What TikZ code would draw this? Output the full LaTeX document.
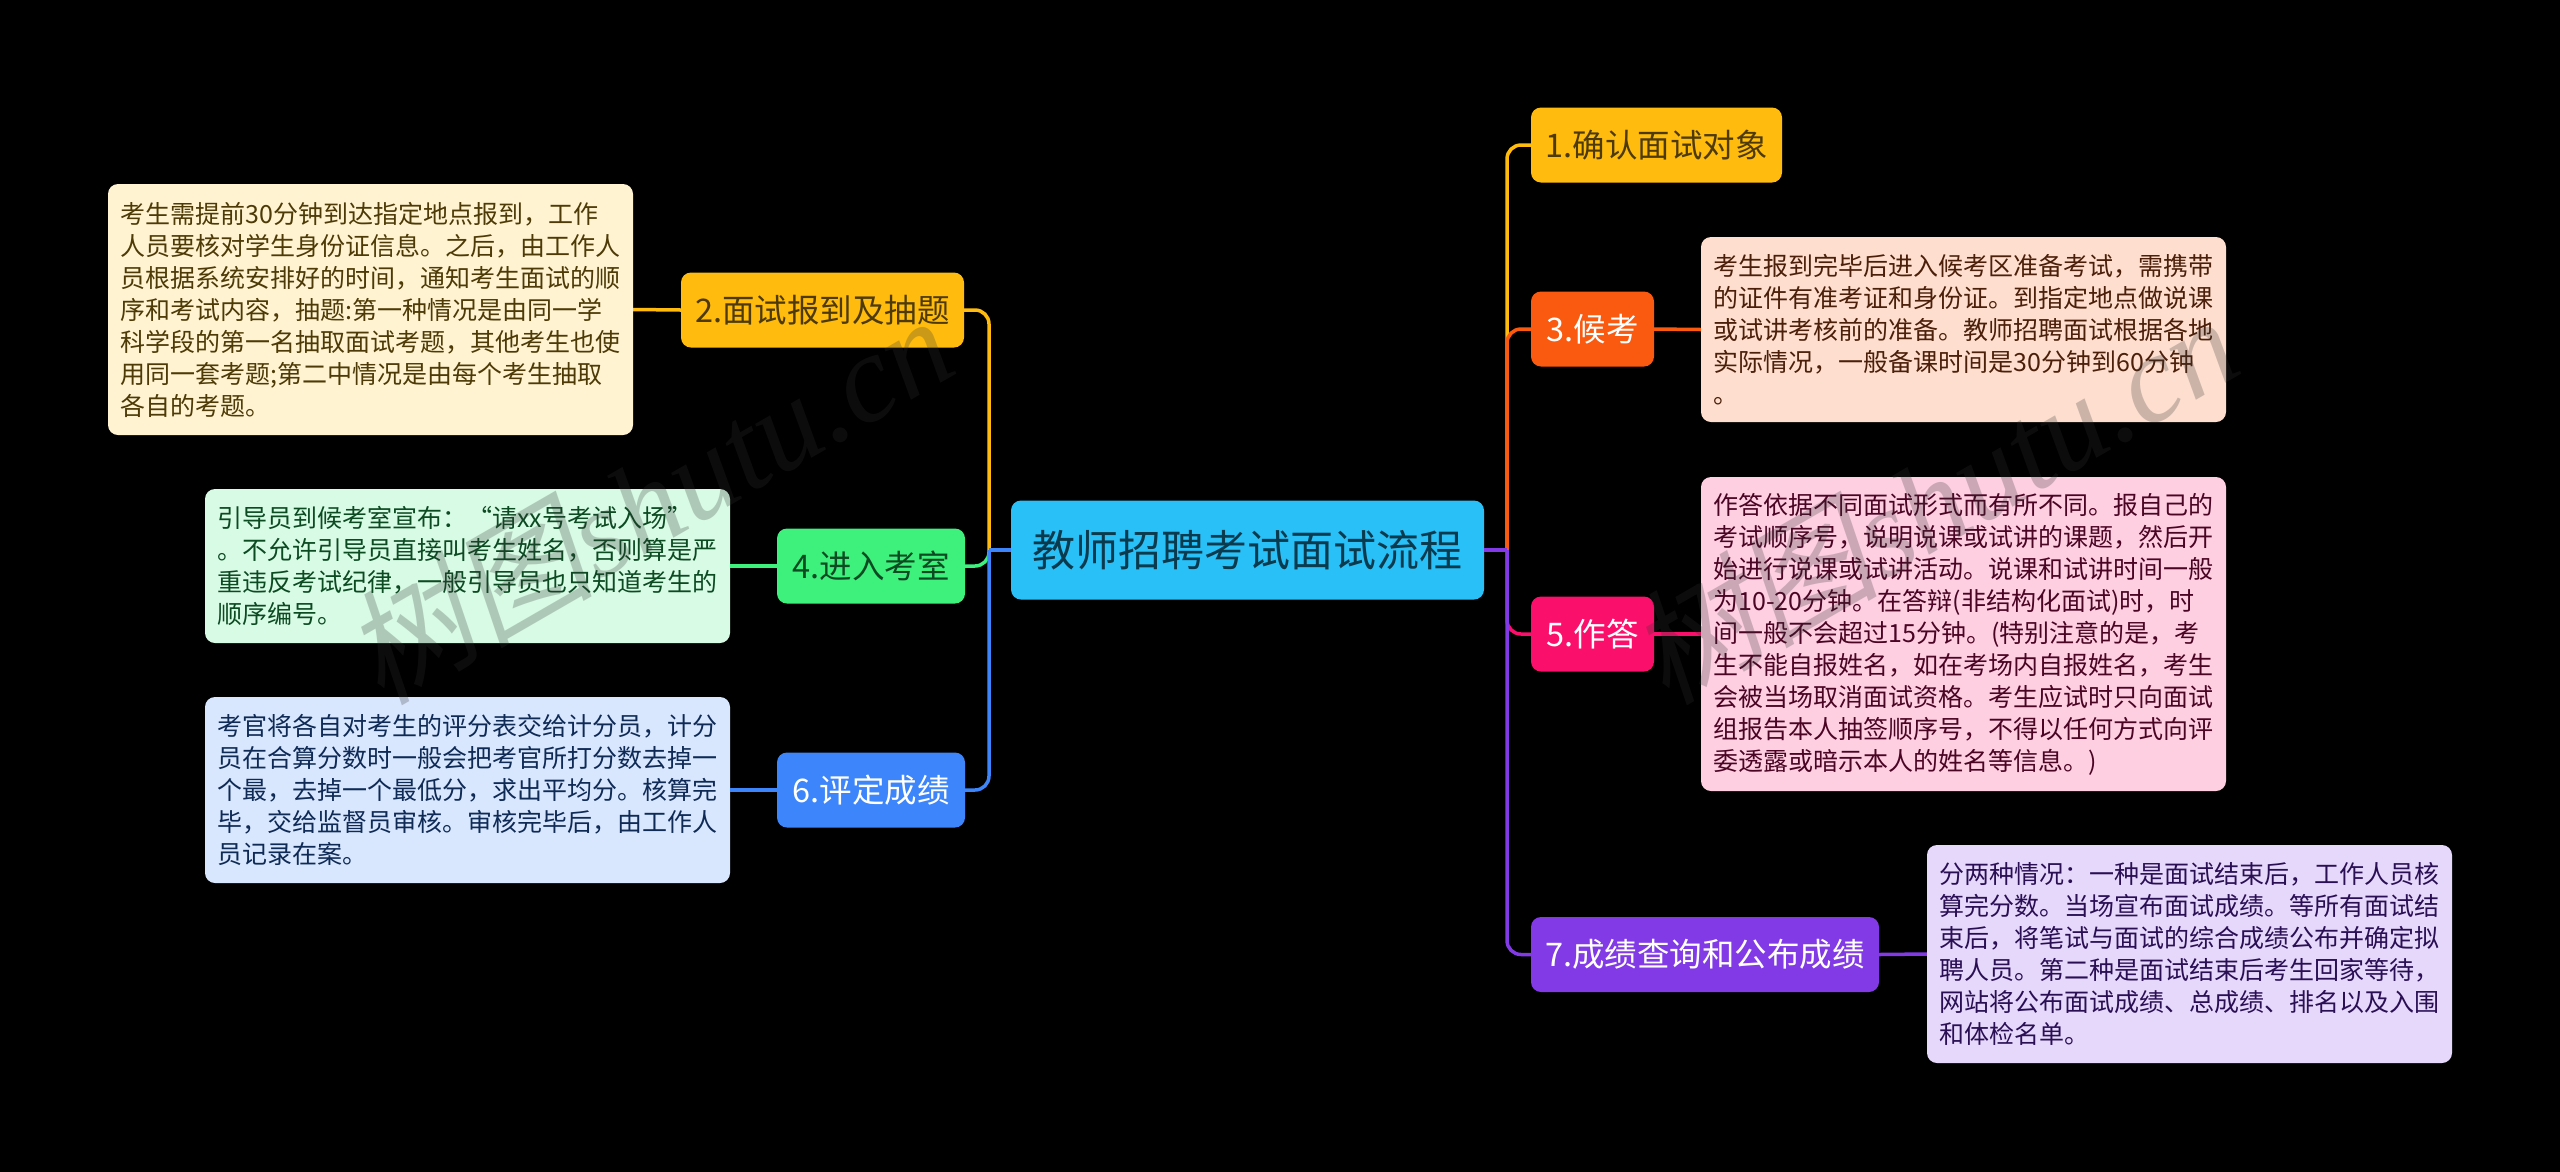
\documentclass[tikz,border=0pt]{standalone}
\usepackage{fontspec}
\setmainfont{Noto Sans CJK SC}
\newfontfamily\markfont[FakeSlant=0.2]{Noto Sans CJK SC}
\newfontfamily\marklatin{Liberation Serif}
\usepackage{tikz}

\definecolor{rootfill}{HTML}{29C0F7}
\definecolor{amberfill}{HTML}{FFBC0F}
\definecolor{orangefill}{HTML}{FA5A0F}
\definecolor{greenfill}{HTML}{3EF07C}
\definecolor{pinkfill}{HTML}{FA0F6B}
\definecolor{bluefill}{HTML}{3C85FA}
\definecolor{purplefill}{HTML}{823AE6}
\definecolor{ambernote}{HTML}{FFF3D1}
\definecolor{orangenote}{HTML}{FEDFCF}
\definecolor{greennote}{HTML}{D8FBE5}
\definecolor{pinknote}{HTML}{FECFE1}
\definecolor{bluenote}{HTML}{D8E7FE}
\definecolor{purplenote}{HTML}{E6D8FA}
\definecolor{roottext}{HTML}{0A3A4D}
\definecolor{ambertext}{HTML}{4D3A06}
\definecolor{orangetext}{HTML}{4B1F0A}
\definecolor{greentext}{HTML}{0C4A22}
\definecolor{pinktext}{HTML}{4B0524}
\definecolor{bluetext}{HTML}{0E2A55}
\definecolor{purpletext}{HTML}{2A0F55}

\tikzset{
  topicbox/.style={rectangle, rounded corners=10pt, inner sep=0pt, minimum height=75pt, font=\fontsize{32.5}{38}\selectfont},
  notebox/.style={rectangle, rounded corners=10pt, inner xsep=12.5pt, inner ysep=0pt, text width=500pt, align=left, font=\fontsize{25}{32}\selectfont},
  linkline/.style={line width=3.5pt},
  bendline/.style={line width=3.5pt, rounded corners=14pt},
  markline/.style={rotate=30, text=black!80, text opacity=0.25, font=\fontsize{125}{125}\selectfont}
}

\begin{document}
\begin{tikzpicture}[x=1pt, y=-1pt]
% Background
\useasboundingbox (0,0) rectangle (2560,1171);
\fill[black] (-5,-5) rectangle (2565,1176);

% Root
\node[rectangle, rounded corners=10pt, fill=rootfill, minimum width=473pt, minimum height=99pt, inner sep=0pt, text=roottext, font=\fontsize{43}{50}\selectfont] (root) at (1247.5,550) {教师招聘考试面试流程};
\coordinate (laneL) at (989,550);
\coordinate (laneR) at (1507,550);

% Left topics
\node[topicbox, fill=amberfill, minimum width=283pt, text=ambertext] (reg) at (822.5,310) {2.面试报到及抽题};
\node[topicbox, fill=greenfill, minimum width=188pt, text=greentext] (room) at (871,566) {4.进入考室};
\node[topicbox, fill=bluefill, minimum width=188pt, text=white] (score) at (871,790) {6.评定成绩};

% Right topics
\node[topicbox, fill=amberfill, minimum width=251pt, text=ambertext] (target) at (1656.5,145) {1.确认面试对象};
\node[topicbox, fill=orangefill, minimum width=123pt, text=white] (wait) at (1592.5,329) {3.候考};
\node[topicbox, fill=pinkfill, minimum width=123pt, text=white] (answer) at (1592.5,634) {5.作答};
\node[topicbox, fill=purplefill, minimum width=348pt, text=white] (query) at (1705,954.5) {7.成绩查询和公布成绩};

% Left notes
\node[notebox, fill=ambernote, minimum height=251pt, text=ambertext] (regnote) at (370.5,309.5) {考生需提前30分钟到达指定地点报到，工作\\人员要核对学生身份证信息。之后，由工作人\\员根据系统安排好的时间，通知考生面试的顺\\序和考试内容，抽题:第一种情况是由同一学\\科学段的第一名抽取面试考题，其他考生也使\\用同一套考题;第二中情况是由每个考生抽取\\各自的考题。};
\node[notebox, fill=greennote, minimum height=154pt, text=greentext] (roomnote) at (467.5,566) {引导员到候考室宣布：“请xx号考试入场”\\。不允许引导员直接叫考生姓名，否则算是严\\重违反考试纪律，一般引导员也只知道考生的\\顺序编号。};
\node[notebox, fill=bluenote, minimum height=186pt, text=bluetext] (scorenote) at (467.5,790) {考官将各自对考生的评分表交给计分员，计分\\员在合算分数时一般会把考官所打分数去掉一\\个最，去掉一个最低分，求出平均分。核算完\\毕，交给监督员审核。审核完毕后，由工作人\\员记录在案。};

% Right notes
\node[notebox, fill=orangenote, minimum height=185pt, text=orangetext] (waitnote) at (1963.5,329.5) {考生报到完毕后进入候考区准备考试，需携带\\的证件有准考证和身份证。到指定地点做说课\\或试讲考核前的准备。教师招聘面试根据各地\\实际情况，一般备课时间是30分钟到60分钟\\。};
\node[notebox, fill=pinknote, minimum height=314pt, text=pinktext] (answernote) at (1963.5,634) {作答依据不同面试形式而有所不同。报自己的\\考试顺序号，说明说课或试讲的课题，然后开\\始进行说课或试讲活动。说课和试讲时间一般\\为10-20分钟。在答辩(非结构化面试)时，时\\间一般不会超过15分钟。(特别注意的是，考\\生不能自报姓名，如在考场内自报姓名，考生\\会被当场取消面试资格。考生应试时只向面试\\组报告本人抽签顺序号，不得以任何方式向评\\委透露或暗示本人的姓名等信息。)};
\node[notebox, fill=purplenote, minimum height=218pt, text=purpletext] (querynote) at (2189.5,954) {分两种情况：一种是面试结束后，工作人员核\\算完分数。当场宣布面试成绩。等所有面试结\\束后，将笔试与面试的综合成绩公布并确定拟\\聘人员。第二种是面试结束后考生回家等待，\\网站将公布面试成绩、总成绩、排名以及入围\\和体检名单。};

% Left links
\draw[bendline, amberfill] (laneL) |- (reg.east);
\draw[bendline, greenfill] (laneL) |- (room.east);
\draw[bendline, bluefill] (laneL) |- (score.east);
\draw[linkline, bluefill] (root.west) -- (laneL);
\draw[linkline, amberfill] (reg.west) -- (regnote.east);
\draw[linkline, greenfill] (room.west) -- (roomnote.east);
\draw[linkline, bluefill] (score.west) -- (scorenote.east);

% Right links
\draw[bendline, amberfill] (laneR) |- (target.west);
\draw[bendline, orangefill] (laneR) |- (wait.west);
\draw[bendline, pinkfill] (laneR) |- (answer.west);
\draw[bendline, purplefill] (laneR) |- (query.west);
\draw[linkline, purplefill] (root.east) -- (laneR);
\draw[linkline, orangefill] (wait.east) -- (waitnote.west);
\draw[linkline, pinkfill] (answer.east) -- (answernote.west);
\draw[linkline, purplefill] (query.east) -- (querynote.west);

% Watermarks
\node[markline] (markL) at (648,498) {\markfont 树图\marklatin\itshape shutu.cn};
\node[markline] (markR) at (1933,498) {\markfont 树图\marklatin\itshape shutu.cn};
\end{tikzpicture}
\end{document}
